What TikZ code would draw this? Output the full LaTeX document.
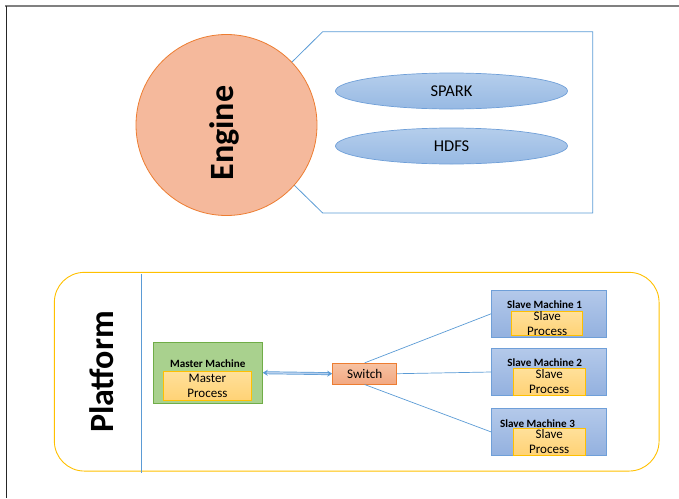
\documentclass[tikz,border=0pt]{standalone}
\usepackage{fontspec}
\setmainfont{Carlito}
\usetikzlibrary{shapes.geometric,arrows.meta}
\definecolor{enginefill}{HTML}{F5B99C}
\definecolor{orangeline}{HTML}{ED7D31}
\definecolor{blueline}{HTML}{5B9BD5}
\definecolor{elltop}{HTML}{B5CEEC}
\definecolor{ellbot}{HTML}{97B9E3}
\definecolor{ellline}{HTML}{6F9FD8}
\definecolor{platyellow}{HTML}{FFC000}
\definecolor{greenfill}{HTML}{A9D18E}
\definecolor{greenline}{HTML}{70AD47}
\definecolor{yeltop}{HTML}{FFE09A}
\definecolor{yelbot}{HTML}{FFD275}
\definecolor{switchtop}{HTML}{F7C2A2}
\definecolor{switchbot}{HTML}{F2A882}
\definecolor{slavetop}{HTML}{B4C9EA}
\definecolor{slavebot}{HTML}{93B1DF}
\tikzset{
  bigtitle/.style={rotate=90, font=\bfseries\fontsize{34}{34}\selectfont, inner sep=0pt},
  layer/.style={ellipse, minimum width=232pt, minimum height=36pt, inner sep=0pt,
    top color=elltop, bottom color=ellbot, draw=ellline, line width=0.7pt,
    font=\fontsize{16.5}{18}\selectfont},
  procbox/.style={rectangle, inner sep=0pt, top color=yeltop, bottom color=yelbot,
    draw=platyellow, line width=1pt, align=center,
    font=\fontsize{13}{15}\selectfont},
  slavebox/.style={rectangle, minimum width=115pt, minimum height=47.3pt, inner sep=0pt,
    top color=slavetop, bottom color=slavebot, draw=ellline, line width=0.8pt},
  boxtitle/.style={inner sep=0pt, font=\bfseries\fontsize{11.1}{12}\selectfont},
  link/.style={draw=blueline, line width=0.7pt},
}
\begin{document}
\begin{tikzpicture}[x=1pt,y=-1pt]
\useasboundingbox (0,0) rectangle (679,498);
% page frame
\draw[black!50, line width=1.6pt] (5,6) -- (679,6);
\draw[black!85, line width=1pt] (6.5,6) -- (6.5,498);

% Engine callout
\coordinate (cA) at (290,64);
\coordinate (cF) at (292,183);
\draw[blueline, line width=0.8pt] (cA) -- (322.7,31.7) -- (592.7,31.7) -- (592.7,213) -- (322.7,213) -- (cF);
\node[circle, minimum size=181pt, inner sep=0pt, fill=enginefill, draw=orangeline, line width=0.8pt] (engine) at (226.5,125) {};
\node[bigtitle] (enginetext) at (224.5,133) {Engine};
\node[layer] (spark) at (451.5,91) {SPARK};
\node[layer] (hdfs) at (451.5,146) {HDFS};

% Platform
\node[rectangle, rounded corners=30pt, draw=platyellow, line width=0.9pt, minimum width=604.7pt, minimum height=198.7pt, inner sep=0pt] (platform) at (356.7,371.7) {};
\coordinate (sepTop) at (141.5,274);
\coordinate (sepBot) at (141.5,473);
\draw[blueline, line width=0.7pt] (sepTop) -- (sepBot);
\node[bigtitle] (platformtext) at (101.7,372) {Platform};

% Master
\node[rectangle, minimum width=109pt, minimum height=60.7pt, inner sep=0pt, fill=greenfill, draw=greenline, line width=0.9pt] (master) at (207.8,372.7) {};
\node[boxtitle] (mastertitle) at (207.8,363.5) {Master Machine};
\node[procbox, minimum width=87.3pt, minimum height=29.4pt] (masterproc) at (207.4,386) {Master\\Process};

% Switch
\node[rectangle, minimum width=64pt, minimum height=20.7pt, inner sep=0pt, top color=switchtop, bottom color=switchbot, draw=orangeline, line width=1pt, font=\fontsize{13.2}{14}\selectfont] (switch) at (364.7,373.7) {Switch};

% Slaves
\node[slavebox] (slave1) at (549.2,313.7) {};
\node[slavebox] (slave2) at (549.2,372) {};
\node[slavebox] (slave3) at (549.2,432) {};
\node[procbox, minimum width=71pt, minimum height=24pt] (proc1) at (547.2,323.7) {Slave\\Process};
\node[procbox, minimum width=71.7pt, minimum height=26.7pt] (proc2) at (549.2,381.7) {Slave\\Process};
\node[procbox, minimum width=71.7pt, minimum height=26.7pt] (proc3) at (549.2,441.7) {Slave\\Process};
\node[boxtitle] (title1) at (544.5,305) {Slave Machine 1};
\node[boxtitle] (title2) at (544.7,362.7) {Slave Machine 2};
\node[boxtitle] (title3) at (537.5,423.3) {Slave Machine 3};

% Connectors
\draw[draw=blueline, line width=0.7pt, double=elltop, double distance=1.5pt,
  {Stealth[length=5pt,width=6pt]}-{Stealth[length=5pt,width=6pt]}] (master.east) -- (switch.west);
\draw[link] (switch.north) -- (slave1.west);
\draw[link] (switch.east) -- (slave2.west);
\draw[link] (switch.south) -- (slave3.west);
\end{tikzpicture}
\end{document}
